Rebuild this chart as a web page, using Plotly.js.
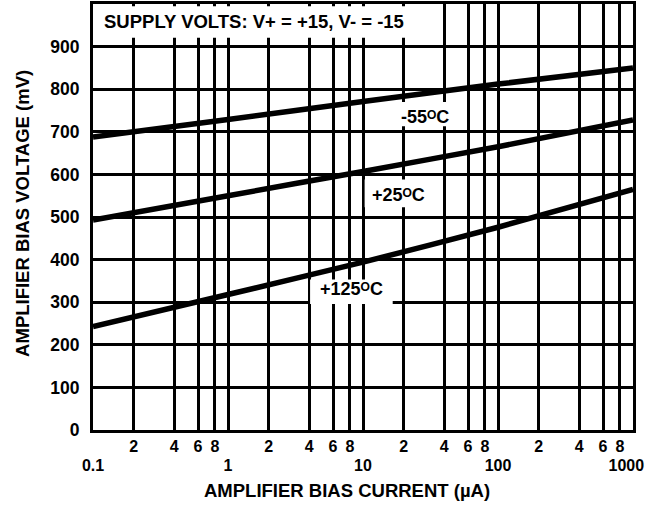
<!DOCTYPE html>
<html>
<head>
<meta charset="utf-8">
<script src="https://cdn.plot.ly/plotly-3.0.1.min.js"></script>
<style>
html,body{margin:0;padding:0;background:#fff;}
#chart{width:660px;height:505px;}
</style>
</head>
<body>
<div id="chart"></div>
<script>
// ---- data ----
const biasCurrent = [0.1, 1, 10, 100, 1000];          // µA
const voltsM55   = [688, 729, 771, 812, 850];         // mV, -55°C
const volts25    = [493, 550, 607, 665, 728];         // mV, +25°C
const volts125   = [243, 318, 394, 476, 565];         // mV, +125°C

const xMinorVals  = [0.2,0.4,0.6,0.8,2,4,6,8,20,40,60,80,200,400,600,800];
const xMinorText  = ['2','4','6','8','2','4','6','8','2','4','6','8','2','4','6','8'];
const xDecadeVals = [0.1, 1, 10, 100, 1000];
const xDecadeText = ['0.1', '1', '10', '100', '1000\u00a0\u00a0\u00a0'];
const yTickVals = [0,100,200,300,400,500,600,700,800,900];

const FONT = 'Liberation Sans, Arial, Helvetica, sans-serif';
const bold = (size) => ({family: FONT, size: size, color: '#000', weight: 700});

const lineStyle = {color: '#000', width: 5.5, shape: 'spline', smoothing: 0.6};
const traces = [
  {x: biasCurrent, y: voltsM55, name: '-55°C', mode: 'lines', line: lineStyle, hoverinfo: 'skip', xaxis: 'x', yaxis: 'y'},
  {x: biasCurrent, y: volts25,  name: '+25°C', mode: 'lines', line: lineStyle, hoverinfo: 'skip', xaxis: 'x', yaxis: 'y'},
  {x: biasCurrent, y: volts125, name: '+125°C', mode: 'lines', line: lineStyle, hoverinfo: 'skip', xaxis: 'x2', yaxis: 'y'}
];

// white boxes that interrupt the grid behind the labels (paper coords)
function box(x0, x1, y0, y1) {
  return {type: 'rect', xref: 'paper', yref: 'paper', x0: x0, x1: x1, y0: y0, y1: y1,
          fillcolor: '#fff', line: {width: 0}, layer: 'above'};
}

const gridStyle = {showgrid: true, gridcolor: '#000', gridwidth: 3};

const layout = {
  width: 660, height: 505,
  margin: {l: 93, r: 27, t: 4, b: 75, pad: 0},
  paper_bgcolor: '#fff', plot_bgcolor: '#fff',
  showlegend: false,
  xaxis: Object.assign({
    type: 'log', range: [-1, 3],
    tickmode: 'array', tickvals: xMinorVals, ticktext: xMinorText,
    ticks: '', ticklabelstandoff: 0, tickangle: 0,
    tickfont: bold(16),
    showline: true, linecolor: '#000', linewidth: 3, mirror: true,
    zeroline: false, fixedrange: true
  }, gridStyle),
  xaxis2: Object.assign({
    type: 'log', range: [-1, 3], overlaying: 'x', anchor: 'y', side: 'bottom',
    tickmode: 'array', tickvals: xDecadeVals, ticktext: xDecadeText,
    ticks: '', ticklabelstandoff: 24, tickangle: 0,
    tickfont: bold(16),
    showline: false, zeroline: false, fixedrange: true
  }, gridStyle),
  yaxis: Object.assign({
    range: [0, 1000],
    tickmode: 'array', tickvals: yTickVals,
    ticks: '', ticklabelstandoff: 7,
    tickfont: bold(17.5),
    showline: true, linecolor: '#000', linewidth: 3, mirror: true,
    zeroline: false, fixedrange: true
  }, gridStyle),
  shapes: [
    box(0.004, 0.587, 0.921, 0.995),   // supply volts label
    box(0.563, 0.667, 0.713, 0.770),   // -55
    box(0.503, 0.627, 0.523, 0.588),   // +25
    box(0.402, 0.555, 0.296, 0.353)    // +125
  ],
  annotations: [
    {xref: 'paper', yref: 'paper', x: 0.016, y: 0.958, xanchor: 'left', yanchor: 'middle',
     text: 'SUPPLY VOLTS: V+ = +15, V- = -15', showarrow: false, font: bold(18.5)},
    {xref: 'paper', yref: 'paper', x: 0.615, y: 0.735, xanchor: 'center', yanchor: 'middle',
     text: '-55\u1D3CC', showarrow: false, font: bold(18)},
    {xref: 'paper', yref: 'paper', x: 0.565, y: 0.552, xanchor: 'center', yanchor: 'middle',
     text: '+25\u1D3CC', showarrow: false, font: bold(18)},
    {xref: 'paper', yref: 'paper', x: 0.478, y: 0.331, xanchor: 'center', yanchor: 'middle',
     text: '+125\u1D3CC', showarrow: false, font: bold(18)},
    {xref: 'paper', yref: 'paper', x: 0.471, y: -0.141, xanchor: 'center', yanchor: 'middle',
     text: 'AMPLIFIER BIAS CURRENT (µA)', showarrow: false, font: bold(18.5)},
    {xref: 'paper', yref: 'paper', x: -0.132, y: 0.509, xanchor: 'center', yanchor: 'middle',
     text: 'AMPLIFIER BIAS VOLTAGE (mV)', textangle: -90, showarrow: false, font: bold(18.5)}
  ]
};

Plotly.newPlot('chart', traces, layout, {displayModeBar: false, staticPlot: true});
</script>
</body>
</html>
